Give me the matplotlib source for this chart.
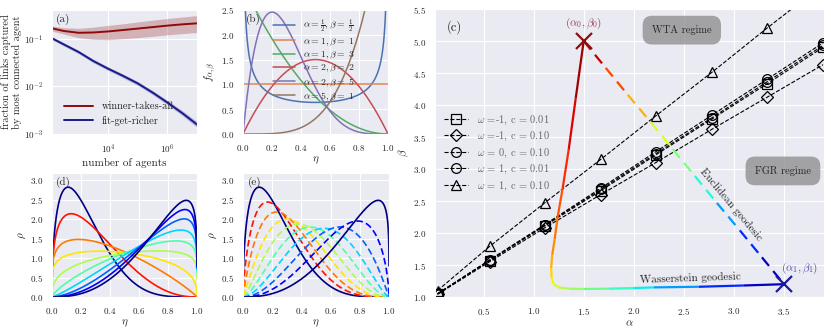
import math
import numpy as np
import matplotlib
matplotlib.use('Agg')
import matplotlib.pyplot as plt
import seaborn as sns
from matplotlib.collections import LineCollection

# ---- panel (a): largest hub share vs network size ----
n_agents = [126, 316, 1000, 3162, 1e4, 31623, 1e5, 316228, 1e6, 3162278, 1e7]
wta_mean = [0.165, 0.145, 0.133, 0.135, 0.142, 0.152, 0.163, 0.175, 0.188, 0.200, 0.210]
wta_upper = [0.185, 0.170, 0.165, 0.175, 0.190, 0.205, 0.225, 0.245, 0.265, 0.285, 0.305]
wta_lower = [0.145, 0.125, 0.105, 0.097, 0.095, 0.100, 0.105, 0.112, 0.120, 0.128, 0.135]
fgr_mean = [0.102, 0.0759, 0.0525, 0.0339, 0.0234, 0.0166, 0.0115, 0.0074, 0.00457, 0.00275, 0.00158]
fgr_upper = [0.110, 0.082, 0.057, 0.037, 0.0256, 0.0182, 0.0127, 0.0082, 0.0051, 0.0031, 0.00182]
fgr_lower = [0.095, 0.070, 0.0485, 0.031, 0.0214, 0.0151, 0.0104, 0.0067, 0.0041, 0.00245, 0.00138]

# ---- panel (b): example beta densities ----
b_alpha = [0.5, 1, 1, 2, 2, 5]
b_beta = [0.5, 1, 3, 2, 5, 1]
b_labels = [r'$\alpha=\frac{1}{2}, \beta=\ \frac{1}{2}$',
            r'$\alpha=1, \beta=\ 1$',
            r'$\alpha=1, \beta=\ 3$',
            r'$\alpha=2, \beta=\ 2$',
            r'$\alpha=2, \beta=\ 5$',
            r'$\alpha=5, \beta=\ 1$']

# ---- panel (c): parameter space ----
sim_alpha = [0.04, 0.56, 1.11, 1.67, 2.22, 2.78, 3.33, 3.89]
sim_beta = {
    'sq': [1.05, 1.57, 2.11, 2.66, 3.22, 3.78, 4.33, 4.90],
    'di': [1.04, 1.55, 2.08, 2.60, 3.10, 3.62, 4.12, 4.63],
    'c0': [1.05, 1.58, 2.13, 2.70, 3.27, 3.84, 4.40, 4.97],
    'c1': [1.05, 1.57, 2.12, 2.68, 3.24, 3.80, 4.36, 4.93],
    'tr': [1.10, 1.79, 2.47, 3.15, 3.83, 4.51, 5.20, 5.88],
}
sim_labels = [r'$\omega$ =-1, c = 0.01', r'$\omega$ =-1, c = 0.10',
              r'$\omega$ = 0, c = 0.10', r'$\omega$ = 1, c = 0.01',
              r'$\omega$ = 1, c = 0.10']
sim_markers = ['s', 'D', 'o', 'o', '^']

# Wasserstein path as drawn in (c), with its time parameter
path_t = [0, 0.055, 0.111, 0.16, 0.2, 0.222, 0.26, 0.3, 0.333, 0.37,
          0.41, 0.444, 0.49, 0.556, 0.62, 0.667, 0.778, 0.889, 1.0]
path_alpha = [1.5, 1.42, 1.35, 1.29, 1.24, 1.21, 1.185, 1.175, 1.18, 1.2,
              1.25, 1.35, 1.5, 1.75, 2.0, 2.2, 2.65, 3.1, 3.5]
path_beta = [5.0, 4.1, 3.3, 2.7, 2.25, 1.9, 1.65, 1.45, 1.3, 1.2,
             1.15, 1.13, 1.125, 1.13, 1.14, 1.15, 1.16, 1.18, 1.2]

# ---- panels (d), (e): densities along the two geodesics ----
geo_t = [0, 1/9, 2/9, 3/9, 4/9, 5/9, 6/9, 7/9, 8/9, 1]
wass_alpha = [1.5, 1.35, 1.2, 1.17, 1.35, 1.75, 2.2, 2.65, 3.1, 3.5]
wass_beta = [5.0, 3.3, 1.9, 1.35, 1.13, 1.13, 1.15, 1.16, 1.19, 1.2]
euc_alpha = [1.5, 1.72, 1.94, 2.17, 2.39, 2.61, 2.83, 3.06, 3.28, 3.5]
euc_beta = [5.0, 4.58, 4.16, 3.73, 3.31, 2.89, 2.47, 2.04, 1.62, 1.2]


def beta_pdf(x, a, b):
    norm = math.gamma(a) * math.gamma(b) / math.gamma(a + b)
    return x ** (a - 1) * (1 - x) ** (b - 1) / norm


sns.set_style('darkgrid')
plt.rcParams['font.family'] = 'serif'
plt.rcParams['font.serif'] = ['cmr10', 'DejaVu Serif']
plt.rcParams['mathtext.fontset'] = 'cm'
plt.rcParams['axes.formatter.use_mathtext'] = True
plt.rcParams['xtick.labelsize'] = 6.5
plt.rcParams['ytick.labelsize'] = 6.5
plt.rcParams['xtick.major.pad'] = 3
plt.rcParams['ytick.major.pad'] = 3
plt.rcParams['axes.labelsize'] = 8
plt.rcParams['axes.labelpad'] = 1.5
plt.rcParams['legend.fontsize'] = 7
plt.rcParams['legend.frameon'] = False

W, H = 831, 331
fig = plt.figure(figsize=(W / 100, H / 100), dpi=100)


def px_axes(l, t, r, b):
    return fig.add_axes([l / W, 1 - b / H, (r - l) / W, (b - t) / H])


jet = plt.get_cmap('jet')
eta = np.linspace(1e-4, 1 - 1e-4, 1000)
unit_ticks = [0.0, 0.2, 0.4, 0.6, 0.8, 1.0]

# (a)
ax = px_axes(52, 10, 197, 134)
red, navy = '#8c0a0a', '#1a1a8c'
ax.fill_between(n_agents, wta_lower, wta_upper, color=red, alpha=0.25, lw=0)
ax.plot(n_agents, wta_mean, color=red, lw=1.4, label='winner-takes-all')
ax.fill_between(n_agents, fgr_lower, fgr_upper, color=navy, alpha=0.25, lw=0)
ax.plot(n_agents, fgr_mean, color=navy, lw=1.4, label='fit-get-richer')
ax.set_xscale('log')
ax.set_yscale('log')
ax.set_xlim(n_agents[0], n_agents[-1])
ax.set_ylim(1e-3, 0.4)
ax.set_xticks([1e4, 1e6])
ax.set_yticks([1e-3, 1e-2, 1e-1])
ax.minorticks_off()
ax.set_xlabel('number of agents')
ax.set_ylabel('fraction of links captured\nby most connected agent', fontsize=7.5, labelpad=1)
ax.legend(loc='lower left', bbox_to_anchor=(0.02, -0.01), handlelength=2.8, labelspacing=0.45,
          fontsize=7.5)
ax.text(0.03, 0.97, '(a)', transform=ax.transAxes, ha='left', va='top', fontsize=8)

# (b)
ax = px_axes(243, 10, 388, 134)
pal = sns.color_palette('deep')
for i in range(len(b_alpha)):
    ax.plot(eta, beta_pdf(eta, b_alpha[i], b_beta[i]), color=pal[i], lw=1.1, label=b_labels[i])
ax.set_xlim(0, 1)
ax.set_ylim(0, 2.5)
ax.set_xticks(unit_ticks)
ax.set_yticks([0.0, 0.5, 1.0, 1.5, 2.0, 2.5])
ax.set_xlabel(r'$\eta$')
ax.set_ylabel(r'$f_{\alpha,\beta}$')
ax.legend(loc='upper left', bbox_to_anchor=(0.17, 0.985), handlelength=2.2,
          labelspacing=0.2, borderaxespad=0.2, fontsize=7)
ax.text(0.02, 0.97, '(b)', transform=ax.transAxes, ha='left', va='top', fontsize=8)

# (d) Wasserstein
ax = px_axes(52, 173, 197, 297)
for i in range(len(geo_t)):
    ax.plot(eta, beta_pdf(eta, wass_alpha[i], wass_beta[i]), color=jet(1 - geo_t[i]), lw=1.2)
ax.set_xlim(0, 1)
ax.set_ylim(0, 3.18)
ax.set_xticks(unit_ticks)
ax.set_yticks([0.0, 0.5, 1.0, 1.5, 2.0, 2.5, 3.0])
ax.set_xlabel(r'$\eta$')
ax.set_ylabel(r'$\rho$')
ax.text(0.03, 0.97, '(d)', transform=ax.transAxes, ha='left', va='top', fontsize=8)

# (e) Euclidean
ax = px_axes(243, 173, 389, 297)
for i in range(len(geo_t)):
    ls = '-' if i in (0, len(geo_t) - 1) else (0, (4, 2))
    ax.plot(eta, beta_pdf(eta, euc_alpha[i], euc_beta[i]), color=jet(1 - geo_t[i]), lw=1.2, ls=ls)
ax.set_xlim(0, 1)
ax.set_ylim(0, 3.18)
ax.set_xticks(unit_ticks)
ax.set_yticks([0.0, 0.5, 1.0, 1.5, 2.0, 2.5, 3.0])
ax.set_xlabel(r'$\eta$')
ax.set_ylabel(r'$\rho$')
ax.text(0.03, 0.97, '(e)', transform=ax.transAxes, ha='left', va='top', fontsize=8)

# (c)
ax = px_axes(435, 9, 824, 297)
for key, mk, lab in zip(sim_beta, sim_markers, sim_labels):
    ax.plot(sim_alpha, sim_beta[key], color='black', ls='--', lw=0.8, marker=mk,
            ms=7 if mk != 'D' else 6, mfc='none', mec='black', mew=0.9, label=lab)

pts = np.column_stack([path_alpha, path_beta])
segs = np.stack([pts[:-1], pts[1:]], axis=1)
mid_t = [(path_t[i] + path_t[i + 1]) / 2 for i in range(len(path_t) - 1)]
ax.add_collection(LineCollection(segs, colors=[jet(1 - t) for t in mid_t], lw=1.6))

for i in range(len(geo_t) - 1):
    ax.plot(euc_alpha[i:i + 2], euc_beta[i:i + 2], color=jet(1 - (geo_t[i] + geo_t[i + 1]) / 2),
            lw=1.6, ls=(0, (5, 3)))

ax.plot(path_alpha[0], path_beta[0], marker='x', ms=12, mew=1.6, color='#8c1010')
ax.plot(path_alpha[-1], path_beta[-1], marker='x', ms=12, mew=1.6, color='#1a1a9c')
ax.text(1.5, 5.27, r'$(\alpha_0, \beta_0)$', color='#a04050', ha='center', va='center', fontsize=8)
ax.text(3.66, 1.45, r'$(\alpha_1, \beta_1)$', color='#5050b0', ha='center', va='center', fontsize=8)
ax.text(2.97, 2.45, 'Euclidean geodesic', rotation=-50, ha='center', va='center', fontsize=8)
ax.text(2.56, 1.3, 'Wasserstein geodesic', rotation=2, ha='center', va='center', fontsize=8)
box = dict(boxstyle='round,pad=0.9', fc='#8a8a8a', ec='none', alpha=0.75)
ax.text(2.48, 5.17, 'WTA regime', ha='center', va='center', fontsize=7.5, bbox=box)
ax.text(3.49, 2.97, 'FGR regime', ha='center', va='center', fontsize=7.5, bbox=box)

ax.set_xlim(0.015, 3.9)
ax.set_ylim(1.0, 5.5)
ax.set_xticks([0.5, 1.0, 1.5, 2.0, 2.5, 3.0, 3.5])
ax.set_yticks([1.0, 1.5, 2.0, 2.5, 3.0, 3.5, 4.0, 4.5, 5.0, 5.5])
ax.set_xlabel(r'$\alpha$')
ax.set_ylabel(r'$\beta$')
ax.legend(loc='center left', bbox_to_anchor=(0.0, 0.5), handlelength=2.3, labelspacing=0.3,
          labelcolor='0.4', fontsize=7.5)
ax.text(0.03, 0.96, '(c)', transform=ax.transAxes, ha='left', va='top', fontsize=9)

fig.savefig('out.png', dpi=100)
